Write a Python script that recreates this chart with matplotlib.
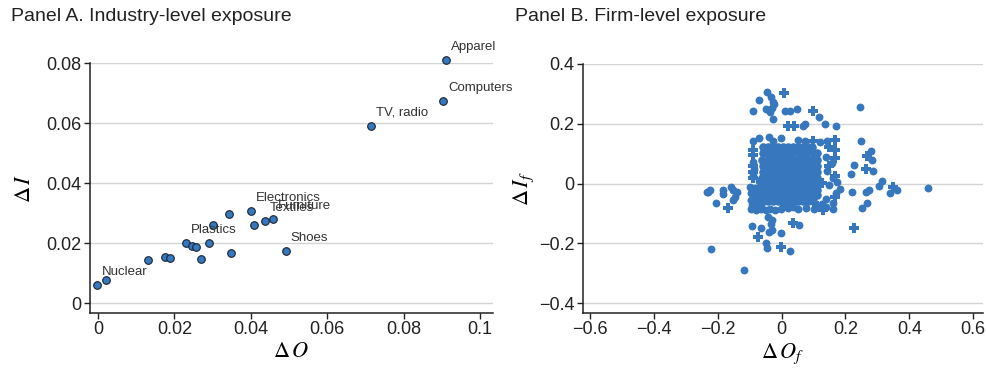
import matplotlib
matplotlib.use('Agg')
import matplotlib.pyplot as plt

plt.rcParams['font.family'] = ['Liberation Sans', 'DejaVu Sans']
plt.rcParams['mathtext.fontset'] = 'stix'

# Panel A: industry-level exposure
ind_dO = [-0.0003, 0.0021, 0.0131, 0.0174, 0.0188, 0.0231, 0.0245, 0.0256, 0.0269,
          0.0291, 0.0301, 0.0343, 0.0347, 0.0400, 0.0408, 0.0436, 0.0457, 0.0491,
          0.0715, 0.0903, 0.0911]
ind_dI = [0.0062, 0.0077, 0.0144, 0.0153, 0.0149, 0.0200, 0.0190, 0.0187, 0.0146,
          0.0201, 0.0260, 0.0296, 0.0168, 0.0307, 0.0261, 0.0273, 0.0282, 0.0174,
          0.0591, 0.0674, 0.0811]
ind_names = ['Nuclear', '', '', '', '', 'Plastics', '', '', '',
             '', '', '', '', 'Electronics', '', 'Textiles', 'Furniture', 'Shoes',
             'TV, radio', 'Computers', 'Apparel']

# Panel B: firm-level exposure, round markers
firm_o_x = [-0.045, -0.071, -0.034, -0.026, -0.024, -0.091, -0.050, -0.037, -0.029, -0.026,
            0.010, 0.026, 0.047, 0.117, 0.074, 0.068, 0.137, 0.169, 0.245, -0.091,
            -0.072, -0.041, -0.026, -0.002, 0.050, 0.073, 0.120, 0.141, 0.248, 0.280,
            0.284, 0.226, 0.216, 0.285, 0.313, 0.305, 0.183, 0.222, 0.264, 0.274,
            0.339, 0.360, 0.459, 0.266, 0.251, -0.235, -0.230, -0.225, -0.204, -0.183,
            -0.183, -0.157, -0.152, -0.146, -0.152, -0.141, -0.222, -0.094, -0.063, -0.044,
            -0.031, -0.034, -0.039, -0.031, -0.003, 0.054, -0.050, -0.045, 0.026, -0.118,
            -0.090, -0.088, -0.091, -0.072, 0.140, 0.158, 0.143, 0.162, 0.150, 0.171,
            0.139, 0.160, 0.175, -0.098, -0.083, -0.068, -0.095, -0.080, -0.066, -0.096,
            -0.082, -0.068, -0.093, -0.079, -0.064, -0.095, -0.081, -0.066, -0.050, -0.035,
            -0.020, -0.003, 0.020, 0.036, 0.050, 0.075, 0.100, 0.140, 0.160, 0.125]
firm_o_y = [0.306, 0.278, 0.288, 0.273, 0.267, 0.244, 0.249, 0.239, 0.253, 0.217,
            0.243, 0.244, 0.248, 0.224, 0.200, 0.192, 0.198, 0.193, 0.255, 0.143,
            0.152, 0.154, 0.143, 0.152, 0.146, 0.143, 0.139, 0.143, 0.142, 0.110,
            0.079, 0.061, 0.032, 0.043, 0.010, -0.008, -0.019, -0.027, -0.027, -0.021,
            -0.030, -0.021, -0.016, -0.064, -0.082, -0.028, -0.027, -0.021, -0.064, -0.021,
            -0.035, -0.010, -0.021, -0.044, -0.055, -0.027, -0.218, -0.141, -0.150, -0.113,
            -0.122, -0.135, -0.161, -0.155, -0.164, -0.139, -0.200, -0.215, -0.225, -0.289,
            0.072, 0.050, 0.030, 0.010, 0.090, 0.070, 0.042, 0.018, -0.006, -0.033,
            -0.052, -0.064, 0.005, -0.012, -0.015, -0.011, -0.033, -0.036, -0.031, -0.054,
            -0.056, -0.052, -0.072, -0.075, -0.071, -0.085, -0.088, -0.086, -0.087, -0.084,
            -0.088, -0.085, -0.083, -0.080, -0.086, -0.081, -0.084, -0.079, -0.086, -0.070]

# Panel B: firm-level exposure, plus markers
firm_p_x = [0.008, 0.099, 0.021, 0.039, 0.099, 0.167, 0.268, 0.264, 0.348, -0.167,
            0.227, -0.073, -0.002, 0.036, 0.167, -0.091, -0.090, -0.091, -0.090, -0.089,
            0.150, 0.168, 0.147, 0.166, 0.128, 0.166, 0.012, 0.110, 0.130]
firm_p_y = [0.303, 0.244, 0.192, 0.192, 0.141, 0.146, 0.092, 0.049, -0.012, -0.082,
            -0.149, -0.180, -0.211, -0.133, 0.113, 0.113, 0.095, 0.060, 0.040, 0.020,
            0.122, 0.085, 0.060, 0.025, 0.002, -0.045, -0.070, -0.076, -0.088]

# Panel B: dense core of firms, typed row by row
core_y = [0.121, 0.101, 0.080, 0.060, 0.040, 0.020, 0.000, -0.020, -0.040, -0.060]
core_x = [
    [-0.058, -0.043, -0.027, -0.012, 0.004, 0.020, 0.035, 0.051, 0.067, 0.082, 0.096],
    [-0.059, -0.044, -0.028, -0.012, 0.003, 0.019, 0.034, 0.050, 0.066, 0.081, 0.097, 0.110],
    [-0.060, -0.043, -0.027, -0.011, 0.004, 0.020, 0.036, 0.051, 0.066, 0.082, 0.098, 0.111],
    [-0.058, -0.044, -0.028, -0.013, 0.003, 0.019, 0.035, 0.050, 0.067, 0.083, 0.097, 0.112],
    [-0.059, -0.043, -0.027, -0.012, 0.004, 0.020, 0.034, 0.051, 0.066, 0.082, 0.098, 0.111],
    [-0.060, -0.044, -0.028, -0.011, 0.003, 0.019, 0.035, 0.050, 0.067, 0.081, 0.097, 0.112],
    [-0.059, -0.043, -0.027, -0.012, 0.004, 0.020, 0.036, 0.051, 0.066, 0.082, 0.098, 0.110],
    [-0.060, -0.044, -0.028, -0.013, 0.003, 0.019, 0.034, 0.050, 0.067, 0.083, 0.097, 0.111],
    [-0.058, -0.043, -0.027, -0.011, 0.004, 0.020, 0.035, 0.051, 0.066, 0.081, 0.098, 0.112],
    [-0.059, -0.044, -0.028, -0.012, 0.003, 0.019, 0.036, 0.050, 0.067, 0.082, 0.097],
]

blue = '#3677bd'

fig = plt.figure(figsize=(9.87, 3.69), dpi=100)
axA = fig.add_axes([0.0912, 0.1518, 0.4083, 0.6767])
axB = fig.add_axes([0.5907, 0.1518, 0.4053, 0.6749])

for ax in (axA, axB):
    ax.spines['top'].set_visible(False)
    ax.spines['right'].set_visible(False)
    for s in ('left', 'bottom'):
        ax.spines[s].set_linewidth(1.1)
        ax.spines[s].set_color('#222222')
    ax.grid(axis='y', color='#d4d4d4', linewidth=1.0)
    ax.set_axisbelow(True)
    ax.tick_params(direction='out', length=4, width=1, labelsize=13, colors='#222222', pad=2)

# Panel A
axA.scatter(ind_dO, ind_dI, s=30, c=blue, edgecolors='#1a2433', linewidths=0.8,
            zorder=3, clip_on=False)
for xv, yv, nm in zip(ind_dO, ind_dI, ind_names):
    if nm:
        axA.annotate(nm, (xv, yv), xytext=(5, 13), textcoords='offset pixels',
                     ha='left', va='center', fontsize=9.5, color='#333333',
                     annotation_clip=False)
axA.set_xlim(-0.0021, 0.1034)
axA.set_ylim(-0.0033, 0.08)
axA.set_xticks([0, 0.02, 0.04, 0.06, 0.08, 0.1])
axA.set_xticklabels(['0', '0.02', '0.04', '0.06', '0.08', '0.1'])
axA.set_yticks([0, 0.02, 0.04, 0.06, 0.08])
axA.set_yticklabels(['0', '0.02', '0.04', '0.06', '0.08'])
axA.set_xlabel(r'$\Delta\, O$', fontsize=16, labelpad=2)
axA.set_ylabel(r'$\Delta\, I$', fontsize=16, labelpad=8)

# Panel B
cx = [v for row in core_x for v in row]
cy = [yv for row, yv in zip(core_x, core_y) for _ in row]
axB.scatter(cx, cy, s=38, c=blue, linewidths=0, zorder=3)
axB.scatter(firm_o_x, firm_o_y, s=32, c=blue, linewidths=0, zorder=3)
axB.scatter(firm_p_x, firm_p_y, s=46, c=blue, marker='P', linewidths=0, zorder=3)
axB.set_xlim(-0.622, 0.631)
axB.set_ylim(-0.433, 0.4)
axB.set_xticks([-0.6, -0.4, -0.2, 0, 0.2, 0.4, 0.6])
axB.set_xticklabels(['\u22120.6', '\u22120.4', '\u22120.2', '0', '0.2', '0.4', '0.6'])
axB.set_yticks([-0.4, -0.2, 0, 0.2, 0.4])
axB.set_yticklabels(['\u22120.4', '\u22120.2', '0', '0.2', '0.4'])
axB.set_xlabel(r'$\Delta\, O_f$', fontsize=16, labelpad=2)
axB.set_ylabel(r'$\Delta\, I_f$', fontsize=16, labelpad=2)

fig.text(0.011, 0.955, 'Panel A. Industry-level exposure', fontsize=14, color='#222222',
         ha='left', va='center')
fig.text(0.522, 0.955, 'Panel B. Firm-level exposure', fontsize=14, color='#222222',
         ha='left', va='center')

fig.savefig('out.png', dpi=100)
